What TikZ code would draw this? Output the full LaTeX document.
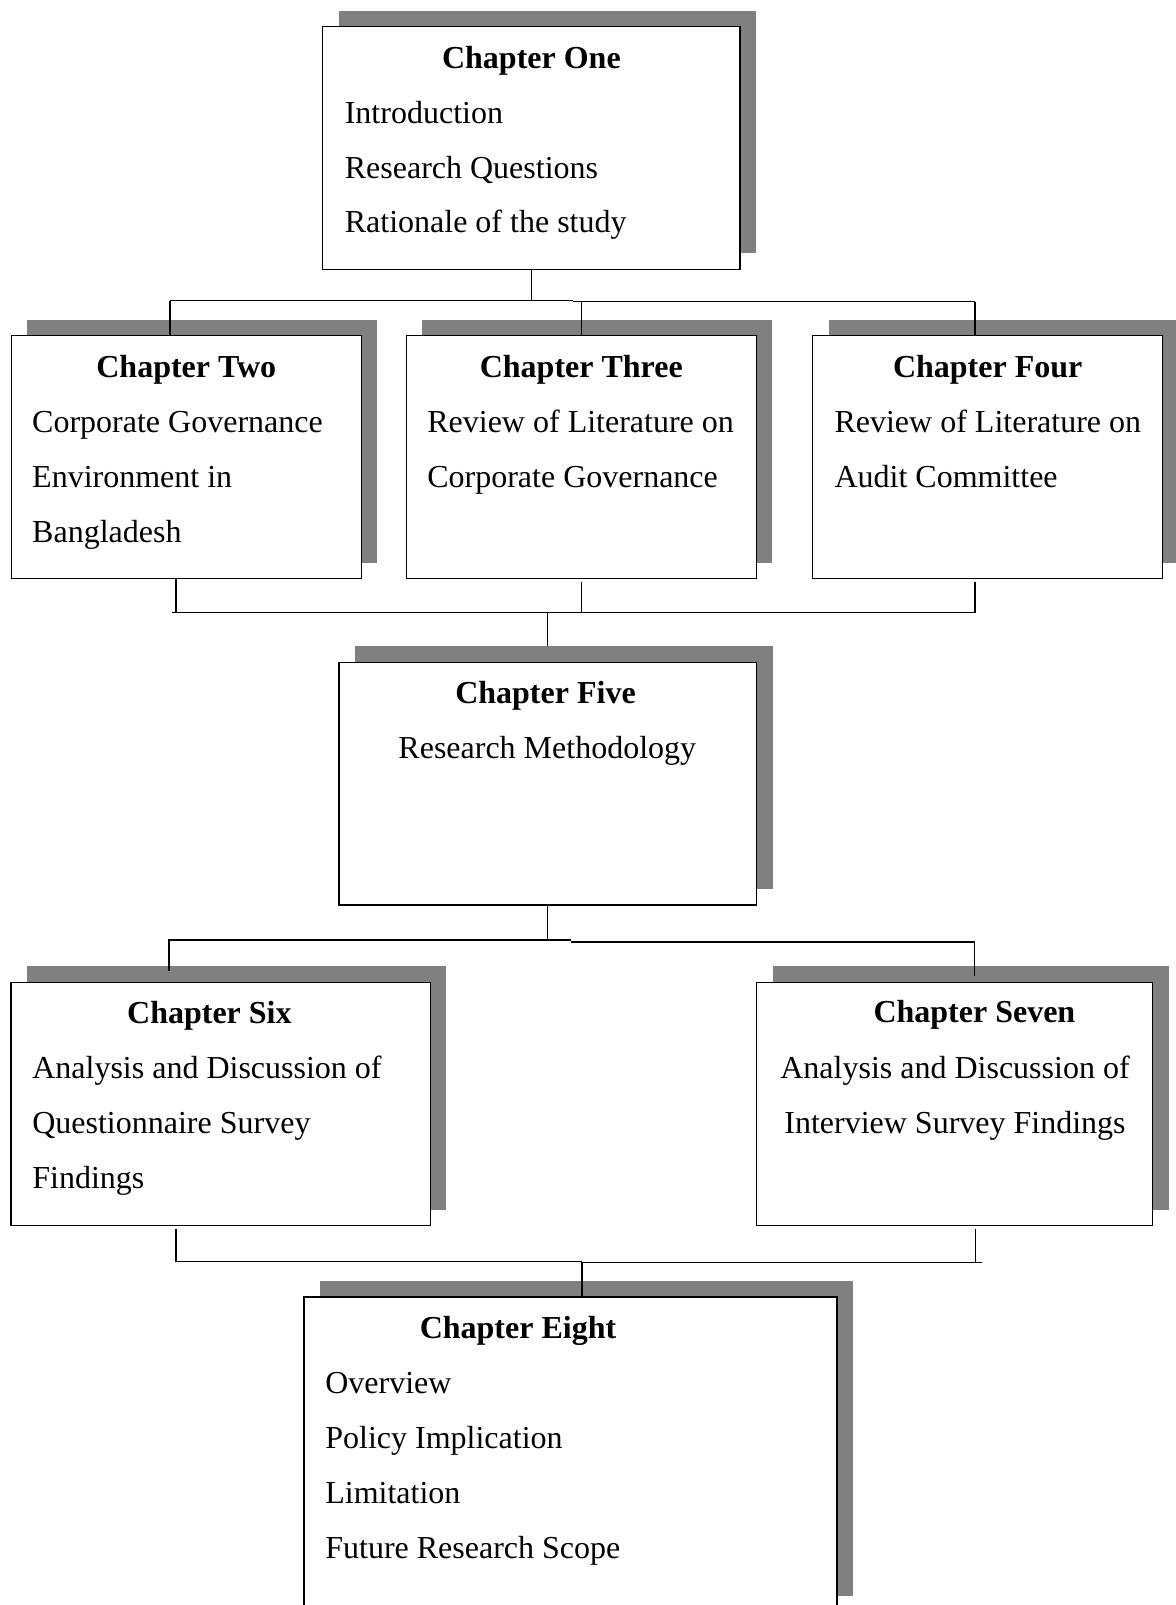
\documentclass[tikz,border=0pt]{standalone}
\usepackage{fontspec}
\setmainfont{Liberation Serif}
\usetikzlibrary{fit,shadows}
\definecolor{shadegray}{RGB}{128,128,128}
\tikzset{
  chbox/.style={draw=black, line width=0.45pt, fill=white, inner sep=0pt,
    drop shadow={shadow xshift=6pt, shadow yshift=6pt, fill=shadegray, opacity=1}},
  ttl/.style={anchor=base, inner sep=0pt, yshift=-0.5pt, font=\fontsize{12}{14}\selectfont\bfseries},
  bodyL/.style={anchor=base west, inner sep=0pt, yshift=-0.5pt, font=\fontsize{12}{14}\selectfont},
  bodyC/.style={anchor=base, inner sep=0pt, yshift=-0.5pt, font=\fontsize{12}{14}\selectfont},
  link/.style={draw=black, line width=0.45pt}
}
\begin{document}
\begin{tikzpicture}[x=0.375pt, y=-0.375pt]
\useasboundingbox (0,0) rectangle (1176,1605);
\fill[white] (0,0) rectangle (1176,1605);
\clip (0,0) rectangle (1176,1605);

% chapter boxes
\node[chbox, fit={(322.7,26.7) (740,269.3)}] (one) {};
\node[chbox, fit={(11.3,335.7) (361.3,578.5)}] (two) {};
\node[chbox, fit={(406.3,335.7) (756.4,578.5)}] (three) {};
\node[chbox, fit={(812.7,335.7) (1162.7,578.5)}] (four) {};
\node[chbox, fit={(339,662.3) (756.7,905)}] (five) {};
\node[chbox, fit={(11,982.3) (430.2,1225.5)}] (six) {};
\node[chbox, fit={(756.5,982.3) (1152.5,1225.5)}] (seven) {};
\node[chbox, fit={(304,1297) (837,1612)}] (eight) {};

% texts
\node[ttl] (oneT) at (531.4,66.7) {Chapter One};
\node[bodyL] (oneA) at (344.3,121.7) {Introduction};
\node[bodyL] (oneB) at (344.3,176.7) {Research Questions};
\node[bodyL] (oneC) at (344.3,231.5) {Rationale of the study};

\node[ttl] (twoT) at (186.3,376) {Chapter Two};
\node[bodyL] (twoA) at (31.7,431) {Corporate Governance};
\node[bodyL] (twoB) at (31.7,486) {Environment in};
\node[bodyL] (twoC) at (31.7,541) {Bangladesh};

\node[ttl] (threeT) at (581.3,376) {Chapter Three};
\node[bodyL] (threeA) at (426.8,431) {Review of Literature on};
\node[bodyL] (threeB) at (426.8,486) {Corporate Governance};

\node[ttl] (fourT) at (987.7,376) {Chapter Four};
\node[bodyL] (fourA) at (834,431) {Review of Literature on};
\node[bodyL] (fourB) at (834,486) {Audit Committee};

\node[ttl] (fiveT) at (545.5,702) {Chapter Five};
\node[bodyC] (fiveA) at (547.3,757.3) {Research Methodology};

\node[ttl] (sixT) at (209.4,1022) {Chapter Six};
\node[bodyL] (sixA) at (31.8,1077) {Analysis and Discussion of};
\node[bodyL] (sixB) at (31.8,1132) {Questionnaire Survey};
\node[bodyL] (sixC) at (31.8,1187.5) {Findings};

\node[ttl] (sevenT) at (974.4,1021.5) {Chapter Seven};
\node[bodyC] (sevenA) at (955,1077) {Analysis and Discussion of};
\node[bodyC] (sevenB) at (955,1132) {Interview Survey Findings};

\node[ttl] (eightT) at (518,1337) {Chapter Eight};
\node[bodyL] (eightA) at (324.8,1392) {Overview};
\node[bodyL] (eightB) at (324.8,1447) {Policy Implication};
\node[bodyL] (eightC) at (324.8,1502) {Limitation};
\node[bodyL] (eightD) at (324.8,1557) {Future Research Scope};

% bus junctions
\coordinate (b1L) at (170,300.7);
\coordinate (b1M) at (573,300.7);
\coordinate (b1N) at (573,301.7);
\coordinate (b1R) at (975,301.7);
\coordinate (b2L) at (172,612.5);
\coordinate (b2R) at (975,612.5);
\coordinate (b3L) at (168,940);
\coordinate (b3M) at (571,940);
\coordinate (b3N) at (571,942);
\coordinate (b3R) at (975,942);
\coordinate (b4L) at (176,1261.5);
\coordinate (b4M) at (582,1261.5);
\coordinate (b4N) at (582,1262.5);
\coordinate (b4R) at (982,1262.5);

% chapter one to chapters two, three, four
\draw[link] (one.south) -- (one.south |- b1L);
\draw[link] (b1L) -- (b1M);
\draw[link] (b1N) -- (b1R);
\draw[link] (b1L) -- (b1L |- two.north);
\draw[link] (three.north |- b1R) -- (three.north);
\draw[link] (b1R) -- (b1R |- four.north);

% chapters two, three, four to chapter five
\draw[link] (b2L) -- (b2R);
\draw[link] ([xshift=1.5pt]b2L |- two.south) -- ([xshift=1.5pt]b2L);
\draw[link] ([yshift=-1pt]three.south) -- (three.south |- b2L);
\draw[link] ([yshift=-1pt]b2R |- four.south) -- (b2R);
\draw[link] (five.north |- b2L) -- ([yshift=6pt]five.north);

% chapter five to chapters six and seven
\draw[link] (five.south) -- (five.south |- b3L);
\draw[link] (b3L) -- (b3M);
\draw[link] (b3N) -- (b3R);
\draw[link] ([xshift=0.4pt]b3L) -- ([xshift=0.4pt,yshift=4pt]b3L |- six.north);
\draw[link] ([xshift=-0.3pt]b3R) -- ([xshift=-0.3pt,yshift=2pt]b3R |- seven.north);

% chapters six and seven to chapter eight
\draw[link] (b4L) -- (b4M);
\draw[link] (b4N) -- (b4R);
\draw[link] ([yshift=-1pt]b4L |- six.south) -- (b4L);
\draw[link] ([xshift=-2.3pt,yshift=-1pt]b4R |- seven.south) -- ([xshift=-2.3pt]b4R);
\draw[link] (b4M) -- (b4M |- eight.north);
\end{tikzpicture}
\end{document}
